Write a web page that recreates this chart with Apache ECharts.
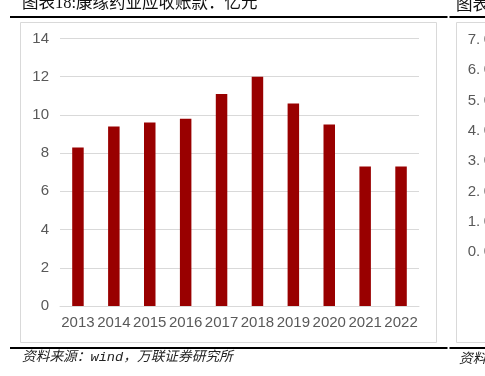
<!DOCTYPE html>
<html>
<head>
<meta charset="utf-8">
<script src="https://cdn.jsdelivr.net/npm/echarts@6/dist/echarts.min.js"></script>
<style>
  html, body { margin: 0; padding: 0; background: #fff; }
  #chart { width: 485px; height: 376px; }
</style>
</head>
<body>
<div id="chart"></div>
<script>
// data
const years = ['2013', '2014', '2015', '2016', '2017', '2018', '2019', '2020', '2021', '2022'];
const receivables = [8.3, 9.4, 9.6, 9.8, 11.1, 12.0, 10.6, 9.5, 7.3, 7.3];
const yTicks = [0, 2, 4, 6, 8, 10, 12, 14];
// neighbouring panel, cut off at the right edge
const rightTicks = [0, 1, 2, 3, 4, 5, 6, 7];

const titleText = '图表18:康缘药业应收账款：亿元';
const sourceText = '资料来源：wind，万联证券研究所';

const grey = '#595959';
const gridGrey = '#d9d9d9';
const cjk = '"Noto Sans CJK SC", sans-serif';
const latin = 'Liberation Sans, Arial, sans-serif';

const chart = echarts.init(document.getElementById('chart'), null, { renderer: 'canvas' });

chart.setOption({
    animation: false,
    backgroundColor: '#fff',
    grid: [
        { left: 60, right: 66, top: 38.5, bottom: 70 },
        { left: 500, width: 200, top: 40, height: 212 }
    ],
    xAxis: [
        {
            type: 'category', data: years, gridIndex: 0,
            axisTick: { show: false },
            axisLine: { lineStyle: { color: gridGrey, width: 1 } },
            axisLabel: { interval: 0, color: grey, fontSize: 15, margin: 9, fontFamily: latin }
        },
        { type: 'category', data: [], gridIndex: 1, show: false }
    ],
    yAxis: [
        {
            type: 'value', gridIndex: 0,
            min: yTicks[0], max: yTicks[yTicks.length - 1], interval: yTicks[1] - yTicks[0],
            axisLine: { show: false }, axisTick: { show: false },
            axisLabel: { color: grey, fontSize: 15, margin: 11, fontFamily: latin },
            splitLine: { lineStyle: { color: gridGrey, width: 1 } }
        },
        {
            type: 'value', gridIndex: 1,
            min: rightTicks[0], max: rightTicks[rightTicks.length - 1], interval: rightTicks[1] - rightTicks[0],
            axisLine: { show: false }, axisTick: { show: false },
            axisLabel: {
                color: grey, fontSize: 15, margin: 8, fontFamily: latin,
                formatter: v => v + '.{z|0}',
                rich: { z: { color: grey, fontSize: 15, fontFamily: latin, padding: [0, 0, 0, 3.5] } }
            },
            splitLine: { show: false }
        }
    ],
    series: [{
        type: 'bar', data: receivables, xAxisIndex: 0, yAxisIndex: 0,
        barWidth: 11.5,
        itemStyle: { color: '#990000' }
    }],
    graphic: [
        // panel frames
        { type: 'rect', shape: { x: 20.5, y: 22.5, width: 416, height: 320 }, style: { fill: null, stroke: gridGrey, lineWidth: 1 }, z: 1 },
        { type: 'rect', shape: { x: 456.5, y: 22.5, width: 60, height: 320 }, style: { fill: null, stroke: gridGrey, lineWidth: 1 }, z: 1 },
        // heavy rules above and below
        { type: 'line', shape: { x1: 10, y1: 17, x2: 447.5, y2: 17 }, style: { stroke: '#000', lineWidth: 2.2 } },
        { type: 'line', shape: { x1: 449.5, y1: 17, x2: 485, y2: 17 }, style: { stroke: '#000', lineWidth: 2.2 } },
        { type: 'line', shape: { x1: 10, y1: 348, x2: 447.5, y2: 348 }, style: { stroke: '#000', lineWidth: 2.2 } },
        { type: 'line', shape: { x1: 449.5, y1: 348, x2: 485, y2: 348 }, style: { stroke: '#000', lineWidth: 2.2 } },
        // titles
        { type: 'text', left: 22, top: -5, style: { text: titleText, fill: '#111', font: '16.5px "Liberation Serif", ' + cjk } },
        { type: 'text', left: 456, top: -5, style: { text: '图表', fill: '#111', font: '16.5px ' + cjk } },
        // sources
        { type: 'text', left: 22, top: 351, style: { text: sourceText, fill: '#222', font: 'italic 13.7px "Liberation Mono", ' + cjk } },
        { type: 'text', left: 459, top: 351, style: { text: '资料', fill: '#222', font: 'italic 13.7px ' + cjk } }
    ]
});
</script>
</body>
</html>
